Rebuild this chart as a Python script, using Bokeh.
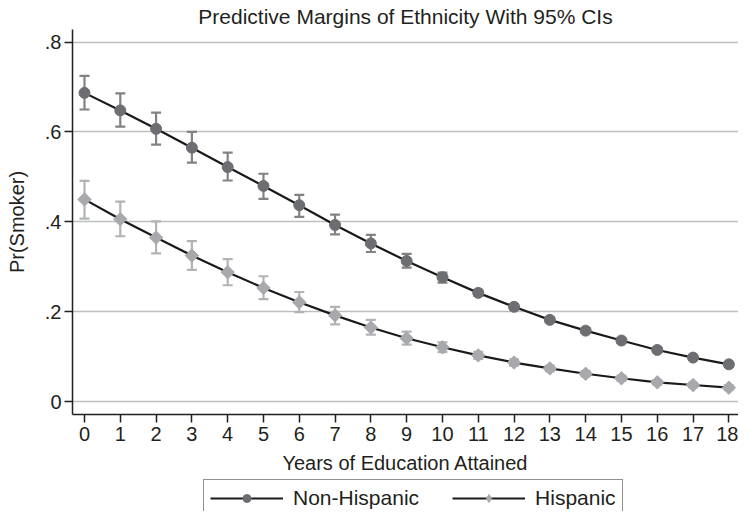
from bokeh.plotting import figure
from bokeh.models import (ColumnDataSource, Whisker, TeeHead, Legend, LegendItem,
                          FixedTicker, Range1d)
from bokeh.layouts import column
from bokeh.embed import file_html
from bokeh.resources import INLINE
import math

# ---- data ----
years = list(range(0, 19))
x_tick_labels = [str(v) for v in years]
y_ticks = [0, 0.2, 0.4, 0.6, 0.8]
y_tick_labels = ["0", ".2", ".4", ".6", ".8"]
series_names = ["Non-Hispanic", "Hispanic"]

nh_margin = [0.687, 0.648, 0.607, 0.565, 0.522, 0.480, 0.437, 0.393, 0.352, 0.313,
             0.277, 0.242, 0.211, 0.182, 0.158, 0.136, 0.115, 0.098, 0.083]
nh_upper = [0.725, 0.686, 0.643, 0.600, 0.554, 0.507, 0.460, 0.416, 0.371, 0.329,
            0.287, 0.249, 0.217, 0.187, 0.163, 0.141, 0.120, 0.103, 0.088]
nh_lower = [0.650, 0.612, 0.572, 0.532, 0.492, 0.451, 0.411, 0.372, 0.333, 0.298,
            0.265, 0.235, 0.205, 0.177, 0.153, 0.131, 0.110, 0.093, 0.078]

hi_margin = [0.450, 0.406, 0.365, 0.325, 0.288, 0.253, 0.221, 0.192, 0.165, 0.141,
             0.121, 0.103, 0.087, 0.074, 0.062, 0.052, 0.043, 0.037, 0.031]
hi_upper = [0.491, 0.445, 0.401, 0.357, 0.317, 0.279, 0.244, 0.211, 0.182, 0.156,
            0.132, 0.111, 0.094, 0.080, 0.068, 0.058, 0.048, 0.042, 0.036]
hi_lower = [0.407, 0.368, 0.330, 0.293, 0.259, 0.228, 0.199, 0.172, 0.149, 0.127,
            0.110, 0.095, 0.080, 0.068, 0.056, 0.046, 0.038, 0.032, 0.026]

FONT = "Liberation Sans"
TXT = "#231f20"
NH_COL = "#6d6e71"
NH_BAR = "#808285"
HI_COL = "#a7a9ac"
HI_BAR = "#b1b3b6"
LINE_COL = "#1a1a1a"

nh_src = ColumnDataSource(dict(x=years, y=nh_margin, lo=nh_lower, hi=nh_upper))
hi_src = ColumnDataSource(dict(x=years, y=hi_margin, lo=hi_lower, hi=hi_upper))

p = figure(width=738, height=476, output_backend="svg", toolbar_location=None,
           x_range=Range1d(-0.335, 18.27), y_range=Range1d(-0.0286, 0.828),
           min_border_left=72, min_border_right=0, min_border_top=0, min_border_bottom=0,
           background_fill_color="white", border_fill_color="white")
p.outline_line_color = None

p.title.text = "Predictive Margins of Ethnicity With 95% CIs"
p.title.align = "center"
p.title.text_font = FONT
p.title.text_font_size = "21px"
p.title.text_font_style = "normal"
p.title.text_color = TXT
p.title.standoff = 4

# error bars
for src, col in ((nh_src, NH_BAR), (hi_src, HI_BAR)):
    w = Whisker(base="x", upper="hi", lower="lo", source=src,
                line_color=col, line_width=2.2,
                upper_head=TeeHead(size=10, line_color=col, line_width=2.2),
                lower_head=TeeHead(size=10, line_color=col, line_width=2.2))
    p.add_layout(w)

p.line("x", "y", source=nh_src, line_color=LINE_COL, line_width=2.2)
p.line("x", "y", source=hi_src, line_color=LINE_COL, line_width=2.2)
p.scatter("x", "y", source=nh_src, marker="circle", size=11,
          fill_color=NH_COL, line_color=NH_COL)
p.scatter("x", "y", source=hi_src, marker="square", size=9.5, angle=math.pi / 4,
          fill_color=HI_COL, line_color=HI_COL)

# axes
p.xaxis.ticker = FixedTicker(ticks=years)
p.xaxis.major_label_overrides = {v: s for v, s in zip(years, x_tick_labels)}
p.yaxis.ticker = FixedTicker(ticks=y_ticks)
p.yaxis.major_label_overrides = {v: s for v, s in zip(y_ticks, y_tick_labels)}
p.yaxis.major_label_orientation = "horizontal"

p.xaxis.axis_label = "Years of Education Attained"
p.yaxis.axis_label = "Pr(Smoker)"
for ax in (p.xaxis, p.yaxis):
    ax.axis_line_color = TXT
    ax.axis_line_width = 1.5
    ax.major_tick_line_color = TXT
    ax.major_tick_line_width = 1.5
    ax.major_tick_in = 0
    ax.major_tick_out = 8
    ax.minor_tick_line_color = None
    ax.major_label_text_font = FONT
    ax.major_label_text_font_size = "20px"
    ax.major_label_text_color = TXT
    ax.axis_label_text_font = FONT
    ax.axis_label_text_font_size = "20px"
    ax.axis_label_text_font_style = "normal"
    ax.axis_label_text_color = TXT
p.xaxis.major_label_standoff = 4
p.xaxis.axis_label_standoff = 8
p.yaxis.major_label_standoff = 3
p.yaxis.axis_label_standoff = 14

p.xgrid.grid_line_color = None
p.ygrid.grid_line_color = "#bcbec0"
p.ygrid.grid_line_width = 1.5

# ---- legend strip below the chart (its glyph renderers hold points outside the view) ----
lg = figure(width=738, height=35, output_backend="svg", toolbar_location=None,
            x_range=Range1d(0, 1), y_range=Range1d(0, 1),
            min_border_left=72, min_border_right=0, min_border_top=0, min_border_bottom=0,
            background_fill_color="white", border_fill_color="white")
lg.outline_line_color = None
lg.axis.visible = False
lg.grid.visible = False
off = dict(x=[-10, -9], y=[-10, -10])
l1 = lg.line("x", "y", source=ColumnDataSource(off), line_color=LINE_COL, line_width=2.2)
s1 = lg.scatter("x", "y", source=ColumnDataSource(off), marker="circle", size=11,
                fill_color=NH_COL, line_color=NH_COL)
l2 = lg.line("x", "y", source=ColumnDataSource(off), line_color=LINE_COL, line_width=2.2)
s2 = lg.scatter("x", "y", source=ColumnDataSource(off), marker="diamond", size=14,
                fill_color=HI_COL, line_color=HI_COL)
legend = Legend(items=[LegendItem(label=series_names[0], renderers=[l1, s1]),
                       LegendItem(label=series_names[1], renderers=[l2, s2])],
                orientation="horizontal", location=(131, -6),
                glyph_width=73, glyph_height=20, label_standoff=10, spacing=33,
                padding=6, margin=0,
                label_text_font=FONT, label_text_font_size="21px", label_text_color=TXT,
                border_line_color=TXT, border_line_width=1.2,
                background_fill_color="white", background_fill_alpha=1)
lg.add_layout(legend, "center")

layout = column(p, lg, spacing=0)
open("out.html", "w").write(file_html(layout, INLINE))
